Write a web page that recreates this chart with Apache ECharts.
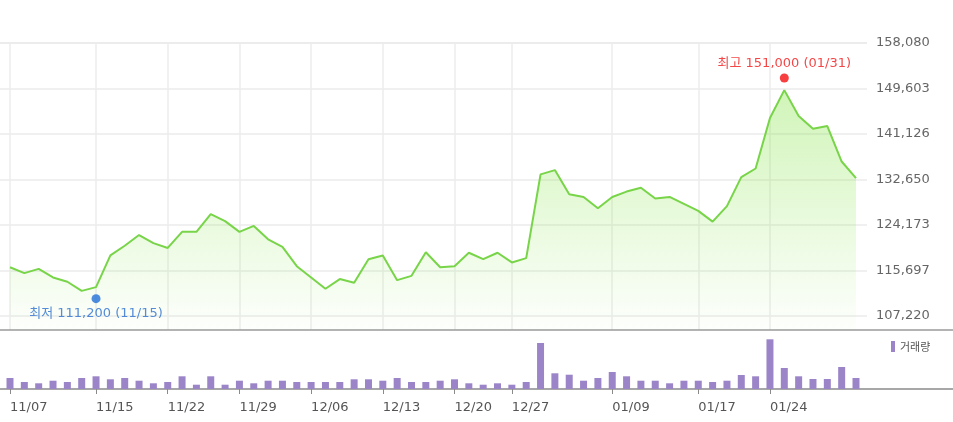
<!DOCTYPE html>
<html>
<head>
<meta charset="utf-8">
<script src="https://cdn.jsdelivr.net/npm/echarts@6/dist/echarts.min.js"></script>
<style>
html,body{margin:0;padding:0;background:#fff;}
#chart{width:953px;height:422px;}
</style>
</head>
<body>
<div id="chart"></div>
<script>
// ---- data ----
const dates = ['11/07','11/08','11/09','11/10','11/13','11/14','11/15','11/16','11/17','11/20',
  '11/21','11/22','11/23','11/24','11/27','11/28','11/29','11/30','12/01','12/04',
  '12/05','12/06','12/07','12/08','12/11','12/12','12/13','12/14','12/15','12/18',
  '12/19','12/20','12/21','12/22','12/26','12/27','12/28','01/02','01/03','01/04',
  '01/05','01/08','01/09','01/10','01/11','01/12','01/15','01/16','01/17','01/18',
  '01/19','01/22','01/23','01/24','01/25','01/26','01/29','01/30','01/31','02/01'];
const tickDates = ['11/07','11/15','11/22','11/29','12/06','12/13','12/20','12/27','01/09','01/17','01/24'];
const closePrices = [116300,115200,116000,114400,113600,111900,112600,118500,120300,122300,
  120800,119900,122900,122900,126200,124900,122900,124000,121500,120100,
  116500,114400,112300,114100,113400,117800,118500,113900,114700,119100,
  116300,116500,119000,117800,119000,117200,118000,133600,134400,129900,
  129400,127300,129400,130400,131100,129100,129400,128100,126800,124800,
  127700,133100,134700,144100,149300,144500,142100,142600,136000,132900];
const volumes = [220000,140000,114000,166000,140000,220000,254000,194000,220000,166000,
  114000,140000,254000,86000,254000,86000,166000,114000,166000,166000,
  140000,140000,140000,140000,194000,194000,166000,220000,140000,140000,
  166000,194000,114000,86000,114000,86000,140000,920000,314000,286000,
  166000,220000,340000,254000,166000,166000,114000,166000,166000,140000,
  166000,280000,254000,994000,420000,254000,200000,200000,440000,220000];
const priceTickLabels = ['107,220','115,697','124,173','132,650','141,126','149,603','158,080'];
const lowPoint = { index: 6, value: 111200, date: '11/15' };
const highPoint = { index: 54, value: 151000, date: '01/31' };
const volumeName = '거래량';

// ---- scales ----
const tickMin = 107220, tickMax = 158080;
const tickInterval = (tickMax - tickMin) / 6;
const pricePxPerUnit = 273 / (tickMax - tickMin);
const priceMin = tickMin - 14 / pricePxPerUnit;   // plot extends below lowest gridline
const volMax = 1080000;

const fmt = v => v.toLocaleString('en-US');
const FONT = "'DejaVu Sans', 'Noto Sans CJK KR', sans-serif";
const isTick = (i, v) => tickDates.indexOf(v) >= 0;

const chart = echarts.init(document.getElementById('chart'), null, { renderer: 'canvas' });
chart.setOption({
  animation: false,
  backgroundColor: '#ffffff',
  grid: [
    { left: 10, right: 97, top: 43, height: 287 },   // price data
    { left: 0, right: 86, top: 43, height: 273 },    // price gridlines / labels
    { left: 10, right: 97, top: 335, height: 54 },   // volume
    { left: 0, right: 0, top: 330, height: 59 }      // panel borders
  ],
  xAxis: [
    { gridIndex: 0, type: 'category', data: dates, boundaryGap: false,
      axisLine: { show: false }, axisTick: { show: false }, axisLabel: { show: false },
      splitLine: { show: true, interval: isTick, lineStyle: { color: '#ececec', width: 1.5 } } },
    { gridIndex: 1, type: 'value', show: false },
    { gridIndex: 2, type: 'category', data: dates, boundaryGap: false,
      axisLine: { show: false },
      axisTick: { show: true, interval: isTick, length: 5, lineStyle: { color: '#8a8a8a' } },
      axisLabel: { show: true, interval: isTick, align: 'left', margin: 12,
        color: '#555', fontSize: 13, fontFamily: FONT },
      splitLine: { show: false } },
    { gridIndex: 3, type: 'value', position: 'bottom', min: 0, max: 1,
      axisLine: { show: true, lineStyle: { color: '#8a8a8a', width: 1.5 } },
      axisTick: { show: false }, axisLabel: { show: false }, splitLine: { show: false } },
    { gridIndex: 3, type: 'value', position: 'top', min: 0, max: 1,
      axisLine: { show: true, lineStyle: { color: '#9a9a9a', width: 1.5 } },
      axisTick: { show: false }, axisLabel: { show: false }, splitLine: { show: false } }
  ],
  yAxis: [
    { gridIndex: 0, type: 'value', min: priceMin, max: tickMax, show: false },
    { gridIndex: 1, type: 'value', min: tickMin, max: tickMax, interval: tickInterval,
      position: 'right',
      axisLine: { show: false }, axisTick: { show: false },
      axisLabel: { margin: 9, color: '#666', fontSize: 13, fontFamily: FONT,
        formatter: v => priceTickLabels[Math.round((v - tickMin) / tickInterval)] },
      splitLine: { show: true, lineStyle: { color: '#ebebeb', width: 1.5 } } },
    { gridIndex: 2, type: 'value', min: 0, max: volMax, show: false },
    { gridIndex: 3, type: 'value', min: 0, max: 1, show: false }
  ],
  legend: {
    data: [volumeName], left: 891, top: 341, itemWidth: 4, itemHeight: 11,
    icon: 'rect', padding: 0,
    textStyle: { color: '#555', fontSize: 11, fontFamily: "'Noto Sans CJK KR', sans-serif" }
  },
  series: [
    { name: 'price', type: 'line', xAxisIndex: 0, yAxisIndex: 0, data: closePrices,
      symbol: 'none', smooth: false,
      lineStyle: { color: '#78d448', width: 2 },
      areaStyle: { color: { type: 'linear', x: 0, y: 43, x2: 0, y2: 330, global: true,
        colorStops: [{ offset: 0, color: 'rgba(120,225,50,0.58)' }, { offset: 1, color: 'rgba(120,225,50,0.02)' }] } },
      z: 3 },
    { name: 'low', type: 'scatter', xAxisIndex: 0, yAxisIndex: 0,
      data: [[lowPoint.index, lowPoint.value]], symbolSize: 9, symbolOffset: [0, 4],
      itemStyle: { color: '#1f6fd8' },
      label: { show: true, position: 'bottom', distance: 4, color: '#2a6fd0', fontSize: 13,
        fontFamily: FONT, formatter: () => '최저 ' + fmt(lowPoint.value) + ' (' + lowPoint.date + ')' },
      z: 5 },
    { name: 'high', type: 'scatter', xAxisIndex: 0, yAxisIndex: 0,
      data: [[highPoint.index, highPoint.value]], symbolSize: 9, symbolOffset: [0, -3],
      itemStyle: { color: '#f50f0f' },
      label: { show: true, position: 'top', distance: 3, color: '#f01818', fontSize: 13,
        fontFamily: FONT, formatter: () => '최고 ' + fmt(highPoint.value) + ' (' + highPoint.date + ')' },
      z: 5 },
    { name: volumeName, type: 'bar', xAxisIndex: 2, yAxisIndex: 2, data: volumes,
      barWidth: 7, itemStyle: { color: '#9b85c8' } }
  ]
});
</script>
</body>
</html>
